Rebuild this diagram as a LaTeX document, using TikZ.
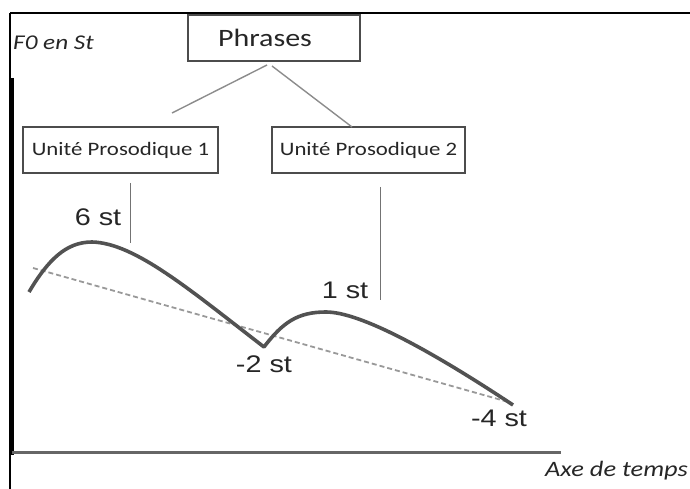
\documentclass[tikz,border=0pt]{standalone}
\usepackage{fontspec}
\setmainfont{Carlito}
\newfontfamily\arialf{Liberation Sans}
\newcommand\stretchx[1]{\scalebox{1.2}[1]{#1}}
\begin{document}
\begin{tikzpicture}[x=1pt,y=-1pt,
  box/.style={draw=black!70,line width=1.8pt,minimum width=#1,minimum height=46pt,inner sep=0pt,font=\fontsize{19}{20}\selectfont,text=black!85},
  conn/.style={draw=black!45,line width=1.4pt},
  lbl/.style={font=\arialf\fontsize{24}{26}\selectfont,inner sep=0pt,text=black!85},
  axlbl/.style={font=\itshape\fontsize{21}{22}\selectfont,inner sep=0pt,anchor=west,text=black!85}]
\useasboundingbox (0,0) rectangle (690,489);
% frame and axes
\draw[line width=2.5pt] (10,13) -- (690,13);
\draw[line width=1.5pt] (10,13) -- (10,489);
\draw[line width=3pt] (12,78) -- (12,455);
\draw[line width=3pt,black!60] (12,452) -- (561,452);
\node[axlbl] (f0) at (13,43) {\stretchx{F0 en St}};
\node[axlbl,font=\itshape\fontsize{22}{23}\selectfont] (axe) at (545,471) {\stretchx{Axe de temps}};
% hierarchy
\node[box=172pt,font=\fontsize{25}{27}\selectfont] (ph) at (274,38) {\hspace*{-18pt}\stretchx{Phrases}};
\node[box=195pt] (up1) at (120.5,150) {\stretchx{Unité Prosodique 1}};
\node[box=193pt] (up2) at (368.5,150) {\stretchx{Unité Prosodique 2}};
\coordinate (p1) at (267,65);
\coordinate (p2) at (272,66);
\coordinate (u1) at (172,113);
\coordinate (u2) at (352,127);
\draw[conn] (p1) -- (u1);
\draw[conn] (p2) -- (u2);
\coordinate (v1a) at (130,183);
\coordinate (v1b) at (130,243);
\coordinate (v2a) at (380,187);
\coordinate (v2b) at (380,300);
\draw[draw=black!55,line width=1pt] (v1a) -- (v1b);
\draw[draw=black!55,line width=1pt] (v2a) -- (v2b);
% contour
\coordinate (s) at (29,292);
\coordinate (pk1) at (92,242);
\coordinate (val) at (264,347);
\coordinate (pk2) at (326,312);
\coordinate (e) at (513,405);
\coordinate (d1) at (33,268);
\coordinate (d2) at (512,403);
\draw[black!40,line width=1.8pt,dash pattern=on 5pt off 3pt] (d1) -- (d2);
\draw[black!68,line width=3.6pt,line join=round]
  (s) .. controls (48,260) and (66,242) .. (pk1)
      .. controls (135,243) and (190,290) .. (val)
      .. controls (283,322) and (298,312) .. (pk2)
      .. controls (360,312) and (430,350) .. (e);
\node[lbl] (l6) at (98,217) {\stretchx{6 st}};
\node[lbl] (l1) at (345,290) {\stretchx{1 st}};
\node[lbl] (l2) at (264,364) {\stretchx{-2 st}};
\node[lbl] (l4) at (499,418) {\stretchx{-4 st}};
\end{tikzpicture}
\end{document}
